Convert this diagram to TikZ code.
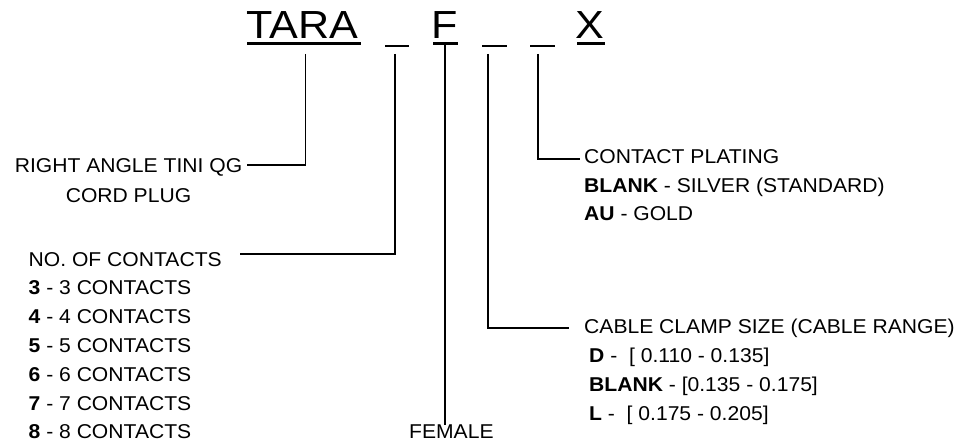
\documentclass[tikz,border=0pt]{standalone}
\usepackage{fontspec}
\setmainfont[FakeStretch=1.055]{Liberation Sans}
\newfontfamily\titlefont[FakeStretch=1.1]{Liberation Sans}
\begin{document}
\begin{tikzpicture}[x=1pt,y=-1pt,
  lbl/.style={inner sep=0pt, anchor=base west, font=\fontsize{20}{24}\selectfont},
  ttl/.style={inner sep=0pt, anchor=base west, font=\titlefont\fontsize{39.2}{46}\selectfont},
  conn/.style={line width=1.9pt},
  uline/.style={line width=2.4pt}]
\useasboundingbox (0,0) rectangle (964,444);
% title
\node[ttl] (tara) at (246,39) {TARA};
\node[ttl] (f) at (431,39) {F};
\node[ttl] (x) at (575,39) {X};
\draw[uline] (247,43.5) -- (361,43.5);
\draw[uline] (385,46) -- (409,46);
\draw[uline] (433,43.5) -- (458,43.5);
\draw[uline] (482,46) -- (507,46);
\draw[uline] (530,46) -- (555,46);
\draw[uline] (577,43.5) -- (605,43.5);
% labels
\node[lbl, anchor=base] (ra1) at (128.5,172) {RIGHT ANGLE TINI QG};
\node[lbl, anchor=base] (ra2) at (128.5,202) {CORD PLUG};
\node[lbl] (noc) at (28.5,266) {NO. OF CONTACTS};
\node[lbl] (n3) at (28.5,294.5) {\textbf{3} - 3 CONTACTS};
\node[lbl] (n4) at (28.5,323.3) {\textbf{4} - 4 CONTACTS};
\node[lbl] (n5) at (28.5,352) {\textbf{5} - 5 CONTACTS};
\node[lbl] (n6) at (28.5,381) {\textbf{6} - 6 CONTACTS};
\node[lbl] (n7) at (28.5,410) {\textbf{7} - 7 CONTACTS};
\node[lbl] (n8) at (28.5,438.5) {\textbf{8} - 8 CONTACTS};
\node[lbl] (fem) at (409,438.5) {FEMALE};
\node[lbl] (cp) at (584,163.3) {CONTACT PLATING};
\node[lbl] (cp1) at (584,192) {\textbf{BLANK} - SILVER (STANDARD)};
\node[lbl] (cp2) at (584,220.8) {\textbf{AU} - GOLD};
\node[lbl] (cc) at (584,333.5) {CABLE CLAMP SIZE (CABLE RANGE)};
\node[lbl] (cc1) at (589,362.5) {\textbf{D} -\ \ [ 0.110 - 0.135]};
\node[lbl] (cc2) at (589,391.5) {\textbf{BLANK} - [0.135 - 0.175]};
\node[lbl] (cc3) at (589,420.5) {\textbf{L} -\ \ [ 0.175 - 0.205]};
% connectors
\coordinate (s0) at (305.5,54);  \coordinate (e0) at (247,165);
\coordinate (s1) at (395,54);    \coordinate (e1) at (240,254);
\coordinate (s2) at (445,43.5);
\coordinate (s3) at (488,54);    \coordinate (e3) at (569,328);
\coordinate (s4) at (538,54);    \coordinate (e4) at (580,159.3);
\draw[conn] (s0) |- (e0);
\draw[conn] (s1) |- (e1);
\draw[conn] (s2) -- (s2 |- fem.north);
\draw[conn] (s3) |- (e3);
\draw[conn] (s4) |- (e4);
\end{tikzpicture}
\end{document}
